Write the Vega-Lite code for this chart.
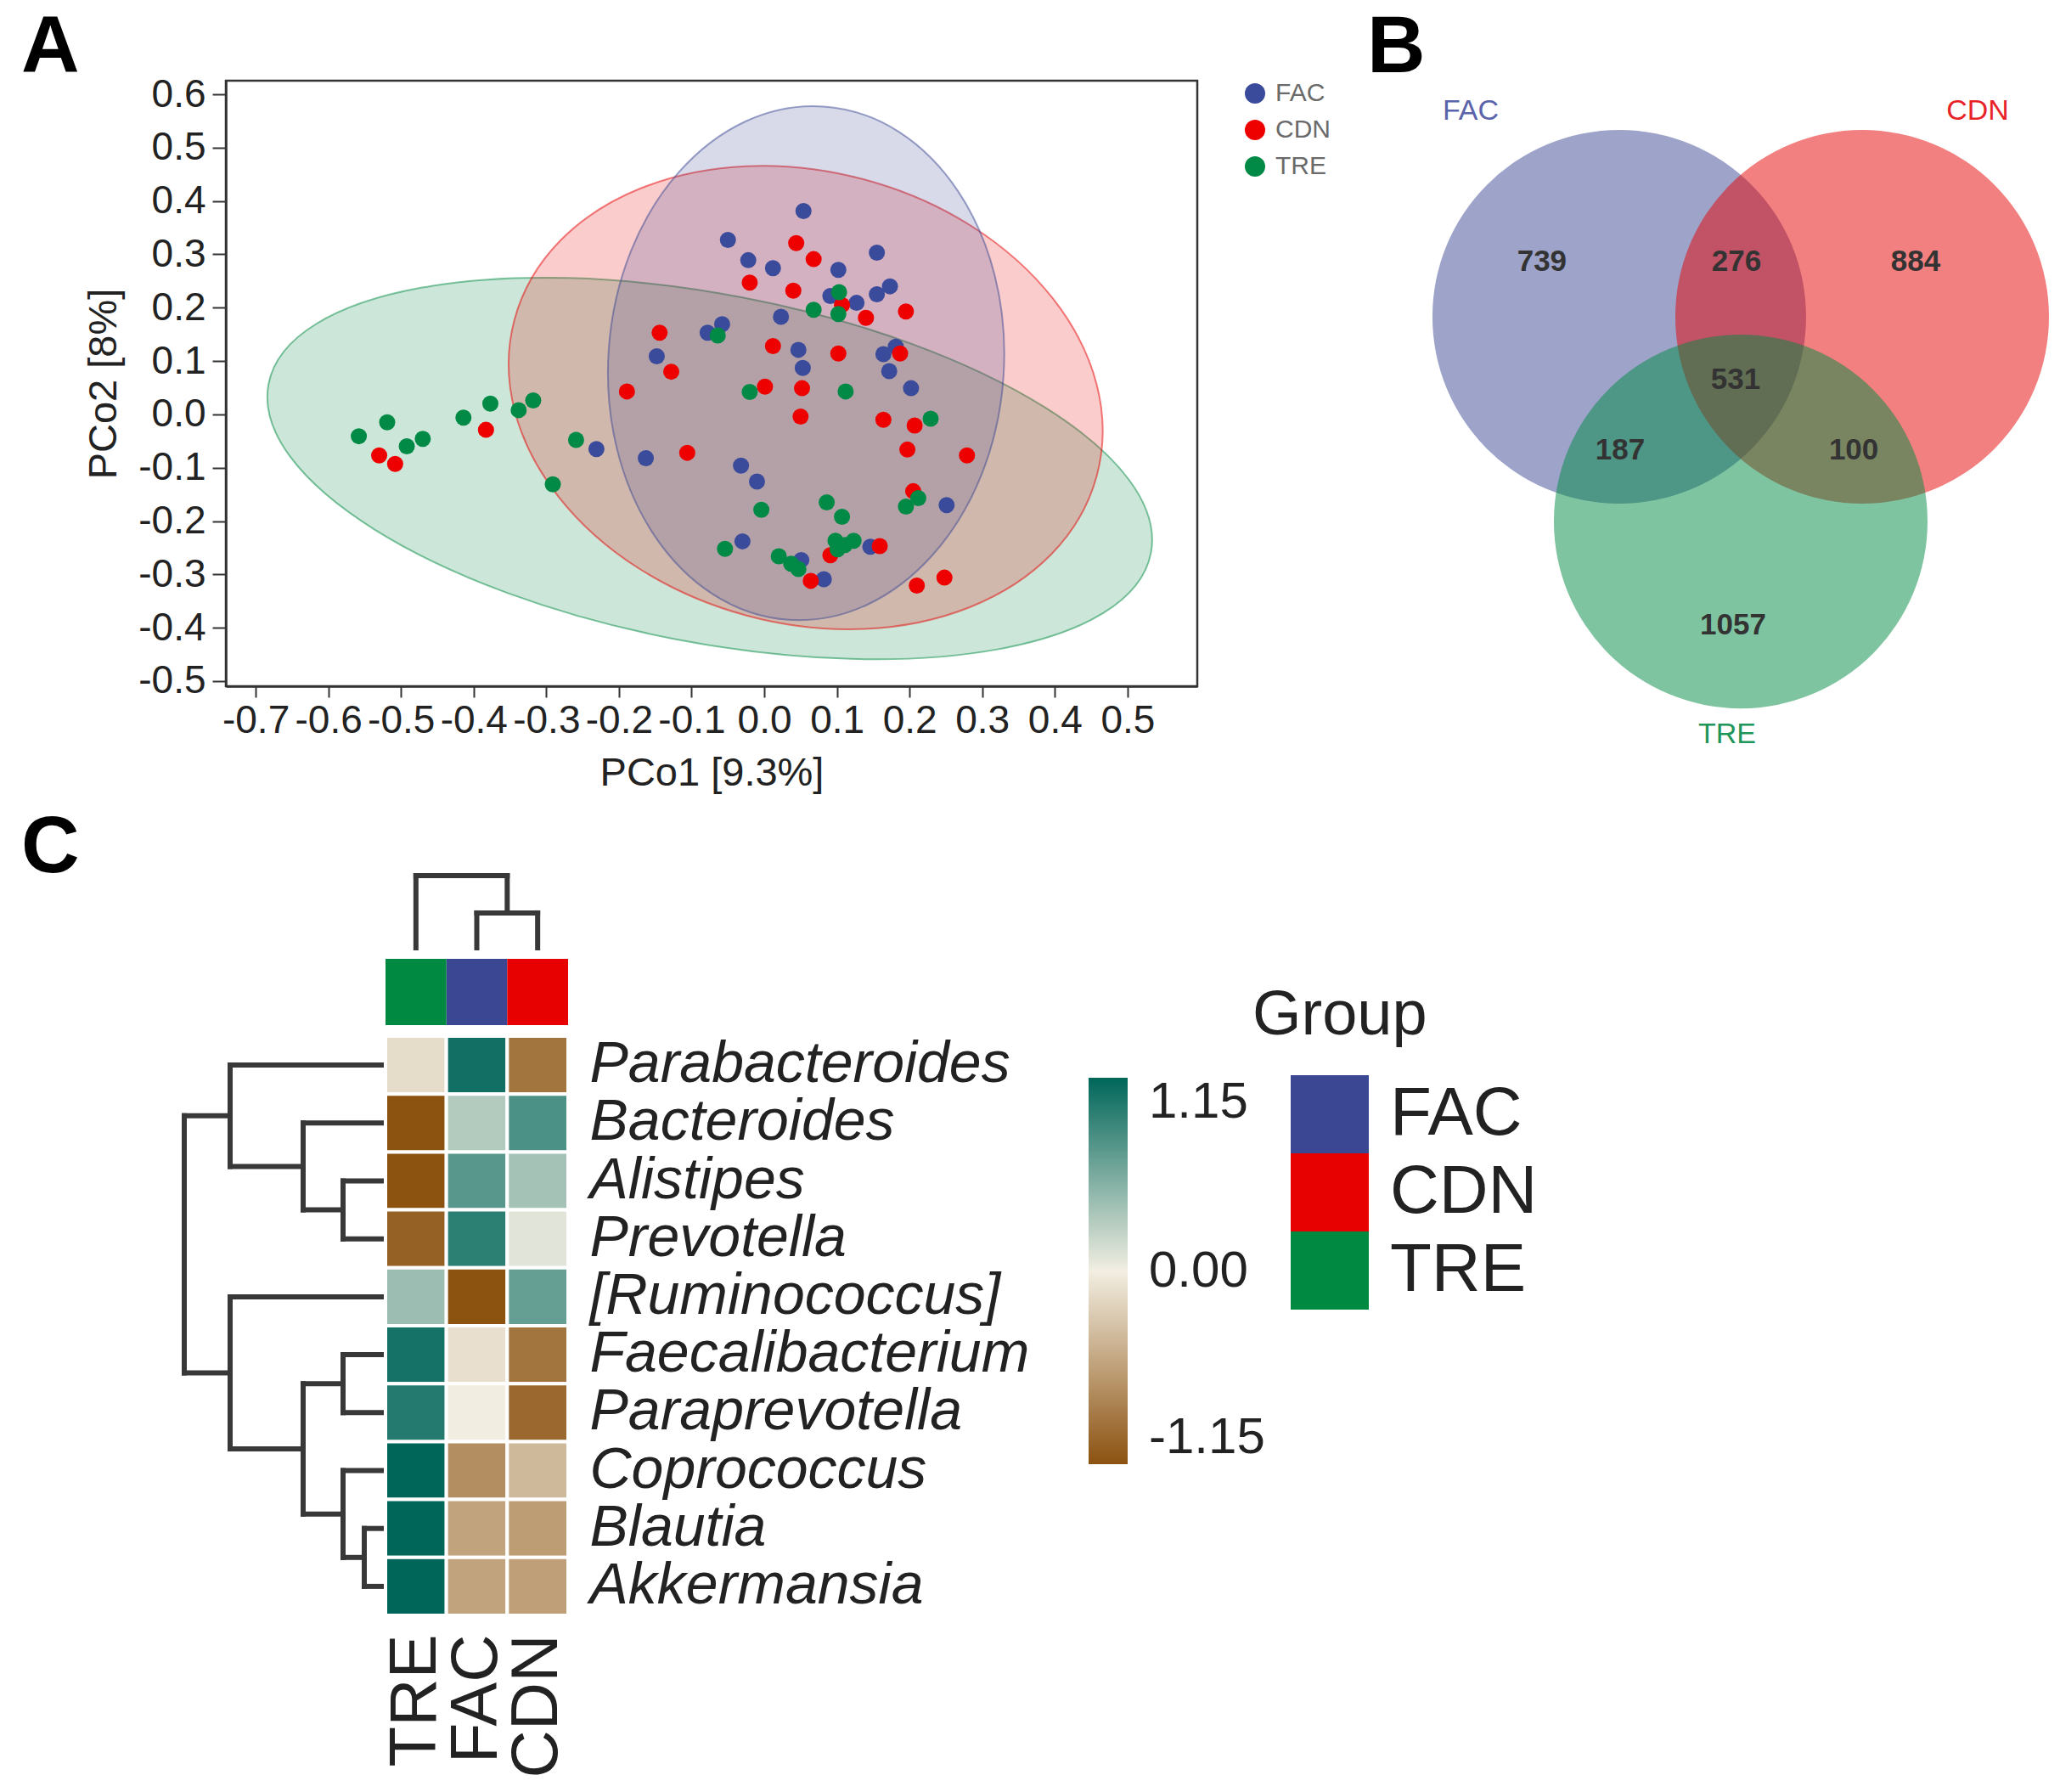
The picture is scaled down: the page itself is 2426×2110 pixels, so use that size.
{
  "$schema": "https://vega.github.io/schema/vega-lite/v6.json",
  "background": "white",
  "padding": {"left": 23, "top": 7, "right": 0, "bottom": 0},
  "config": {
    "font": "Liberation Sans",
    "view": {"stroke": null},
    "axis": {"grid": false},
    "title": {"anchor": "start", "frame": "group", "fontSize": 95, "fontWeight": "bold", "color": "#000", "baseline": "alphabetic"}
  },
  "datasets": {
    "points": [
      {"group": "FAC", "x": -0.231, "y": -0.065}, {"group": "FAC", "x": -0.163, "y": -0.082}, {"group": "FAC", "x": 0.054, "y": 0.381},
      {"group": "FAC", "x": -0.050, "y": 0.327}, {"group": "FAC", "x": -0.022, "y": 0.289}, {"group": "FAC", "x": 0.012, "y": 0.274},
      {"group": "FAC", "x": 0.102, "y": 0.271}, {"group": "FAC", "x": 0.155, "y": 0.303}, {"group": "FAC", "x": 0.173, "y": 0.240},
      {"group": "FAC", "x": 0.155, "y": 0.225}, {"group": "FAC", "x": 0.091, "y": 0.222}, {"group": "FAC", "x": 0.127, "y": 0.209},
      {"group": "FAC", "x": 0.023, "y": 0.183}, {"group": "FAC", "x": -0.058, "y": 0.169}, {"group": "FAC", "x": -0.078, "y": 0.153},
      {"group": "FAC", "x": -0.148, "y": 0.109}, {"group": "FAC", "x": 0.047, "y": 0.121}, {"group": "FAC", "x": 0.053, "y": 0.087},
      {"group": "FAC", "x": 0.164, "y": 0.113}, {"group": "FAC", "x": 0.181, "y": 0.127}, {"group": "FAC", "x": 0.172, "y": 0.081},
      {"group": "FAC", "x": 0.202, "y": 0.049}, {"group": "FAC", "x": -0.032, "y": -0.096}, {"group": "FAC", "x": -0.010, "y": -0.126},
      {"group": "FAC", "x": -0.030, "y": -0.238}, {"group": "FAC", "x": 0.051, "y": -0.273}, {"group": "FAC", "x": 0.082, "y": -0.309},
      {"group": "FAC", "x": 0.146, "y": -0.248}, {"group": "FAC", "x": 0.251, "y": -0.170},
      {"group": "CDN", "x": -0.530, "y": -0.077}, {"group": "CDN", "x": -0.508, "y": -0.093}, {"group": "CDN", "x": -0.383, "y": -0.029},
      {"group": "CDN", "x": -0.189, "y": 0.043}, {"group": "CDN", "x": 0.044, "y": 0.321}, {"group": "CDN", "x": 0.068, "y": 0.291},
      {"group": "CDN", "x": -0.020, "y": 0.247}, {"group": "CDN", "x": 0.040, "y": 0.232}, {"group": "CDN", "x": 0.107, "y": 0.205},
      {"group": "CDN", "x": 0.140, "y": 0.181}, {"group": "CDN", "x": 0.195, "y": 0.193}, {"group": "CDN", "x": -0.144, "y": 0.153},
      {"group": "CDN", "x": 0.012, "y": 0.128}, {"group": "CDN", "x": 0.102, "y": 0.114}, {"group": "CDN", "x": 0.187, "y": 0.114},
      {"group": "CDN", "x": -0.128, "y": 0.080}, {"group": "CDN", "x": 0.001, "y": 0.052}, {"group": "CDN", "x": 0.052, "y": 0.049},
      {"group": "CDN", "x": 0.050, "y": -0.004}, {"group": "CDN", "x": 0.164, "y": -0.010}, {"group": "CDN", "x": 0.207, "y": -0.021},
      {"group": "CDN", "x": -0.106, "y": -0.072}, {"group": "CDN", "x": 0.197, "y": -0.066}, {"group": "CDN", "x": 0.279, "y": -0.077},
      {"group": "CDN", "x": 0.205, "y": -0.144}, {"group": "CDN", "x": 0.091, "y": -0.264}, {"group": "CDN", "x": 0.159, "y": -0.247},
      {"group": "CDN", "x": 0.064, "y": -0.312}, {"group": "CDN", "x": 0.210, "y": -0.321}, {"group": "CDN", "x": 0.248, "y": -0.306},
      {"group": "TRE", "x": -0.558, "y": -0.041}, {"group": "TRE", "x": -0.519, "y": -0.015}, {"group": "TRE", "x": -0.492, "y": -0.060},
      {"group": "TRE", "x": -0.470, "y": -0.046}, {"group": "TRE", "x": -0.414, "y": -0.006}, {"group": "TRE", "x": -0.377, "y": 0.020},
      {"group": "TRE", "x": -0.338, "y": 0.008}, {"group": "TRE", "x": -0.318, "y": 0.026}, {"group": "TRE", "x": -0.259, "y": -0.048},
      {"group": "TRE", "x": -0.291, "y": -0.131}, {"group": "TRE", "x": 0.103, "y": 0.229}, {"group": "TRE", "x": 0.068, "y": 0.196},
      {"group": "TRE", "x": 0.102, "y": 0.188}, {"group": "TRE", "x": -0.064, "y": 0.148}, {"group": "TRE", "x": -0.020, "y": 0.042},
      {"group": "TRE", "x": 0.112, "y": 0.043}, {"group": "TRE", "x": 0.229, "y": -0.008}, {"group": "TRE", "x": -0.004, "y": -0.179},
      {"group": "TRE", "x": 0.086, "y": -0.165}, {"group": "TRE", "x": 0.107, "y": -0.192}, {"group": "TRE", "x": -0.054, "y": -0.252},
      {"group": "TRE", "x": 0.020, "y": -0.266}, {"group": "TRE", "x": 0.037, "y": -0.280}, {"group": "TRE", "x": 0.047, "y": -0.290},
      {"group": "TRE", "x": 0.098, "y": -0.237}, {"group": "TRE", "x": 0.111, "y": -0.245}, {"group": "TRE", "x": 0.123, "y": -0.237},
      {"group": "TRE", "x": 0.101, "y": -0.253}, {"group": "TRE", "x": 0.195, "y": -0.173}, {"group": "TRE", "x": 0.212, "y": -0.157}
    ],
    "ellipses": [
      {"group": "FAC", "x": 0.0576, "y": 0.096},
      {"group": "CDN", "x": 0.057, "y": 0.0315},
      {"group": "TRE", "x": -0.075, "y": -0.1014}
    ],
    "venn": [
      {"set": "FAC", "x": 0, "y": 0},
      {"set": "CDN", "x": 1.3, "y": 0},
      {"set": "TRE", "x": 0.65, "y": -1.0955}
    ],
    "venn_counts": [
      {"count": "739", "x": -0.414, "y": 0.295},
      {"count": "276", "x": 0.627, "y": 0.295},
      {"count": "884", "x": 1.586, "y": 0.295},
      {"count": "531", "x": 0.623, "y": -0.336},
      {"count": "187", "x": 0.005, "y": -0.714},
      {"count": "100", "x": 1.255, "y": -0.714},
      {"count": "1057", "x": 0.609, "y": -1.65}
    ],
    "venn_labels": [
      {"label": "FAC", "x": -0.795, "y": 1.1},
      {"label": "CDN", "x": 1.918, "y": 1.1},
      {"label": "TRE", "x": 0.577, "y": -2.236}
    ],
    "coltree": [
      {"x": 0.5, "x2": 0.5, "y": 0, "y2": 2.07},
      {"x": 1.5, "x2": 1.5, "y": 0, "y2": 1.0},
      {"x": 2.5, "x2": 2.5, "y": 0, "y2": 1.0},
      {"x": 1.5, "x2": 2.5, "y": 1.0, "y2": 1.0},
      {"x": 2.0, "x2": 2.0, "y": 1.0, "y2": 2.07},
      {"x": 0.5, "x2": 2.0, "y": 2.07, "y2": 2.07}
    ],
    "rowtree": [
      {"x": 0, "x2": 3.66, "y": 0.5, "y2": 0.5},
      {"x": 0, "x2": 1.94, "y": 1.5, "y2": 1.5},
      {"x": 0, "x2": 1.0, "y": 2.5, "y2": 2.5},
      {"x": 0, "x2": 1.0, "y": 3.5, "y2": 3.5},
      {"x": 0, "x2": 3.66, "y": 4.5, "y2": 4.5},
      {"x": 0, "x2": 1.0, "y": 5.5, "y2": 5.5},
      {"x": 0, "x2": 1.0, "y": 6.5, "y2": 6.5},
      {"x": 0, "x2": 1.0, "y": 7.5, "y2": 7.5},
      {"x": 0, "x2": 0.5, "y": 8.5, "y2": 8.5},
      {"x": 0, "x2": 0.5, "y": 9.5, "y2": 9.5},
      {"x": 1.0, "x2": 1.0, "y": 2.5, "y2": 3.5},
      {"x": 1.0, "x2": 1.94, "y": 3.0, "y2": 3.0},
      {"x": 1.94, "x2": 1.94, "y": 1.5, "y2": 3.0},
      {"x": 1.94, "x2": 3.66, "y": 2.25, "y2": 2.25},
      {"x": 3.66, "x2": 3.66, "y": 0.5, "y2": 2.25},
      {"x": 3.66, "x2": 4.74, "y": 1.375, "y2": 1.375},
      {"x": 1.0, "x2": 1.0, "y": 5.5, "y2": 6.5},
      {"x": 1.0, "x2": 1.94, "y": 6.0, "y2": 6.0},
      {"x": 0.5, "x2": 0.5, "y": 8.5, "y2": 9.5},
      {"x": 0.5, "x2": 1.0, "y": 9.0, "y2": 9.0},
      {"x": 1.0, "x2": 1.0, "y": 7.5, "y2": 9.0},
      {"x": 1.0, "x2": 1.94, "y": 8.25, "y2": 8.25},
      {"x": 1.94, "x2": 1.94, "y": 6.0, "y2": 8.25},
      {"x": 1.94, "x2": 3.66, "y": 7.125, "y2": 7.125},
      {"x": 3.66, "x2": 3.66, "y": 4.5, "y2": 7.125},
      {"x": 3.66, "x2": 4.74, "y": 5.8125, "y2": 5.8125},
      {"x": 4.74, "x2": 4.74, "y": 1.375, "y2": 5.8125}
    ],
    "groups": [{"group": "FAC"}, {"group": "CDN"}, {"group": "TRE"}],
    "heat": [
      {"genus": "Parabacteroides", "group": "TRE", "z": -0.13}, {"genus": "Parabacteroides", "group": "FAC", "z": 1.07}, {"genus": "Parabacteroides", "group": "CDN", "z": -0.9},
      {"genus": "Bacteroides", "group": "TRE", "z": -1.15}, {"genus": "Bacteroides", "group": "FAC", "z": 0.30}, {"genus": "Bacteroides", "group": "CDN", "z": 0.79},
      {"genus": "Alistipes", "group": "TRE", "z": -1.15}, {"genus": "Alistipes", "group": "FAC", "z": 0.73}, {"genus": "Alistipes", "group": "CDN", "z": 0.37},
      {"genus": "Prevotella", "group": "TRE", "z": -1.04}, {"genus": "Prevotella", "group": "FAC", "z": 0.94}, {"genus": "Prevotella", "group": "CDN", "z": 0.08},
      {"genus": "[Ruminococcus]", "group": "TRE", "z": 0.41}, {"genus": "[Ruminococcus]", "group": "FAC", "z": -1.15}, {"genus": "[Ruminococcus]", "group": "CDN", "z": 0.67},
      {"genus": "Faecalibacterium", "group": "TRE", "z": 1.05}, {"genus": "Faecalibacterium", "group": "FAC", "z": -0.11}, {"genus": "Faecalibacterium", "group": "CDN", "z": -0.9},
      {"genus": "Paraprevotella", "group": "TRE", "z": 0.98}, {"genus": "Paraprevotella", "group": "FAC", "z": -0.01}, {"genus": "Paraprevotella", "group": "CDN", "z": -0.98},
      {"genus": "Coprococcus", "group": "TRE", "z": 1.15}, {"genus": "Coprococcus", "group": "FAC", "z": -0.71}, {"genus": "Coprococcus", "group": "CDN", "z": -0.39},
      {"genus": "Blautia", "group": "TRE", "z": 1.15}, {"genus": "Blautia", "group": "FAC", "z": -0.55}, {"genus": "Blautia", "group": "CDN", "z": -0.6},
      {"genus": "Akkermansia", "group": "TRE", "z": 1.15}, {"genus": "Akkermansia", "group": "FAC", "z": -0.55}, {"genus": "Akkermansia", "group": "CDN", "z": -0.58}
    ]
  },
  "vconcat": [
    {
      "hconcat": [
        {
          "width": 1144,
          "height": 713,
          "title": {"text": "A", "dx": -241, "offset": -17},
          "view": {"stroke": "#333", "strokeWidth": 2.5},
          "encoding": {
            "x": {
              "field": "x", "type": "quantitative",
              "scale": {"domain": [-0.741, 0.596], "nice": false, "zero": false},
              "axis": {
                "title": "PCo1 [9.3%]", "values": [-0.7, -0.6, -0.5, -0.4, -0.3, -0.2, -0.1, 0, 0.1, 0.2, 0.3, 0.4, 0.5],
                "format": ".1f", "labelExpr": "replace(datum.label, '\u2212', '-')",
                "labelFontSize": 46, "titleFontSize": 47, "titleFontWeight": "normal",
                "tickSize": 13, "tickWidth": 2, "tickColor": "#333", "domainColor": "#333", "domainWidth": 2.5,
                "labelColor": "#222", "titleColor": "#222", "labelPadding": 5, "titlePadding": 16,
                "labelFlush": false, "labelOverlap": false
              }
            },
            "y": {
              "field": "y", "type": "quantitative",
              "scale": {"domain": [-0.5096, 0.6255], "nice": false, "zero": false},
              "axis": {
                "title": "PCo2 [8%]", "values": [-0.5, -0.4, -0.3, -0.2, -0.1, 0, 0.1, 0.2, 0.3, 0.4, 0.5, 0.6],
                "format": ".1f", "labelExpr": "replace(datum.label, '\u2212', '-')",
                "labelFontSize": 46, "titleFontSize": 47, "titleFontWeight": "normal",
                "tickSize": 16, "tickWidth": 2, "tickColor": "#333", "domainColor": "#333", "domainWidth": 2.5,
                "labelColor": "#222", "titleColor": "#222", "labelPadding": 8, "titlePadding": 16,
                "labelFlush": false, "labelOverlap": false
              }
            }
          },
          "layer": [
            {
              "data": {"name": "ellipses"},
              "transform": [{"filter": "datum.group === 'TRE'"}],
              "mark": {"type": "point", "shape": "M 1 0 C 1 0.214 0.5523 0.3875 0 0.3875 C -0.5523 0.3875 -1 0.214 -1 0 C -1 -0.214 -0.5523 -0.3875 0 -0.3875 C 0.5523 -0.3875 1 -0.214 1 0 Z", "size": 1119364, "angle": 10.85, "filled": true, "opacity": 1, "fill": "#008941", "fillOpacity": 0.2, "stroke": "#008941", "strokeOpacity": 0.5, "strokeWidth": 2}
            },
            {
              "data": {"name": "ellipses"},
              "transform": [{"filter": "datum.group === 'CDN'"}],
              "mark": {"type": "point", "shape": "M 1 0 C 1 0.4137 0.5523 0.749 0 0.749 C -0.5523 0.749 -1 0.4137 -1 0 C -1 -0.4137 -0.5523 -0.749 0 -0.749 C 0.5523 -0.749 1 -0.4137 1 0 Z", "size": 504100, "angle": 15, "filled": true, "opacity": 1, "fill": "#E70101", "fillOpacity": 0.2, "stroke": "#E70101", "strokeOpacity": 0.5, "strokeWidth": 2}
            },
            {
              "data": {"name": "ellipses"},
              "transform": [{"filter": "datum.group === 'FAC'"}],
              "mark": {"type": "point", "shape": "M 1 0 C 1 0.718 0.5523 1.3 0 1.3 C -0.5523 1.3 -1 0.718 -1 0 C -1 -0.718 -0.5523 -1.3 0 -1.3 C 0.5523 -1.3 1 -0.718 1 0 Z", "size": 217156, "angle": 3.9, "filled": true, "opacity": 1, "fill": "#3B4793", "fillOpacity": 0.2, "stroke": "#3B4793", "strokeOpacity": 0.5, "strokeWidth": 2}
            },
            {
              "data": {"name": "points"},
              "mark": {"type": "point", "shape": "circle", "filled": true, "size": 361, "opacity": 1},
              "encoding": {
                "color": {
                  "field": "group", "type": "nominal",
                  "scale": {"domain": ["FAC", "CDN", "TRE"], "range": ["#3B4B9C", "#EE0000", "#008A45"]},
                  "legend": {
                    "orient": "none", "legendX": 1197, "legendY": 0, "title": null, "padding": 0,
                    "labelFontSize": 30, "labelColor": "#6a6a6a", "symbolType": "circle", "symbolSize": 576,
                    "symbolStrokeWidth": 0, "rowPadding": 13, "labelOffset": 9
                  }
                }
              }
            }
          ]
        },
        {
          "width": 826,
          "height": 713,
          "title": {"text": "B", "dx": 8, "offset": -10},
          "encoding": {
            "x": {"field": "x", "type": "quantitative", "scale": {"domain": [-1.386, 2.368], "nice": false, "zero": false}, "axis": null},
            "y": {"field": "y", "type": "quantitative", "scale": {"domain": [-1.977, 1.2636], "nice": false, "zero": false}, "axis": null}
          },
          "layer": [
            {
              "data": {"name": "venn"},
              "mark": {"type": "point", "shape": "circle", "size": 193600, "filled": true, "opacity": 1, "fillOpacity": 0.5, "strokeWidth": 0},
              "encoding": {
                "fill": {"field": "set", "type": "nominal", "scale": {"domain": ["FAC", "CDN", "TRE"], "range": ["#3B4793", "#E70101", "#008941"]}, "legend": null}
              }
            },
            {
              "data": {"name": "venn_counts"},
              "mark": {"type": "text", "fontSize": 35, "fontWeight": "bold", "fill": "#333"},
              "encoding": {"text": {"field": "count", "type": "nominal"}}
            },
            {
              "data": {"name": "venn_labels"},
              "mark": {"type": "text", "fontSize": 34},
              "encoding": {
                "text": {"field": "label", "type": "nominal"},
                "color": {"field": "label", "type": "nominal", "scale": {"domain": ["FAC", "CDN", "TRE"], "range": ["#5A64AA", "#E82328", "#1E965A"]}, "legend": null}
              }
            }
          ]
        }
      ],
      "spacing": 192,
      "bounds": "flush",
      "resolve": {"scale": {"color": "independent", "fill": "independent"}, "legend": {"color": "independent", "fill": "independent"}}
    },
    {
      "title": {"text": "C", "dx": -241, "offset": -20},
      "hconcat": [
        {
          "width": 188,
          "height": 871,
          "data": {"name": "rowtree"},
          "mark": {"type": "rule", "strokeWidth": 6, "color": "#383838", "strokeCap": "square"},
          "encoding": {
            "x": {"field": "x", "type": "quantitative", "scale": {"domain": [0, 3.76], "reverse": true, "nice": false, "zero": false}, "axis": null},
            "x2": {"field": "x2"},
            "y": {"field": "y", "type": "quantitative", "scale": {"domain": [-2.771, 10], "reverse": true, "nice": false, "zero": false}, "axis": null},
            "y2": {"field": "y2"}
          }
        },
        {
          "vconcat": [
            {
              "width": 215,
              "height": 85,
              "data": {"name": "coltree"},
              "mark": {"type": "rule", "strokeWidth": 6, "color": "#383838", "strokeCap": "square"},
              "encoding": {
                "x": {"field": "x", "type": "quantitative", "scale": {"domain": [0, 3], "nice": false, "zero": false}, "axis": null},
                "x2": {"field": "x2"},
                "y": {"field": "y", "type": "quantitative", "scale": {"domain": [0, 2.07], "nice": false, "zero": false}, "axis": null},
                "y2": {"field": "y2"}
              }
            },
            {
              "width": 215,
              "height": 78,
              "data": {"name": "groups"},
              "mark": {"type": "rect"},
              "encoding": {
                "x": {"field": "group", "type": "nominal", "scale": {"domain": ["TRE", "FAC", "CDN"], "paddingInner": 0, "paddingOuter": 0}, "axis": null},
                "fill": {
                  "field": "group", "type": "nominal",
                  "scale": {"domain": ["FAC", "CDN", "TRE"], "range": ["#3B4793", "#E70101", "#008941"]},
                  "legend": {
                    "orient": "none", "legendX": 1021, "legendY": 31, "padding": 0,
                    "title": "Group", "titleFontSize": 74, "titleFontWeight": "normal", "titleColor": "#222", "titlePadding": 32, "titleLimit": 1000,
                    "symbolType": "square", "symbolSize": 8464, "symbolStrokeWidth": 0, "symbolOffset": 45,
                    "labelFontSize": 80, "labelOffset": 25, "labelColor": "#222", "labelLimit": 1000, "rowPadding": 0
                  }
                }
              }
            },
            {
              "width": 215,
              "height": 682,
              "data": {"name": "heat"},
              "mark": {"type": "rect", "stroke": "white", "strokeWidth": 4},
              "encoding": {
                "x": {
                  "field": "group", "type": "nominal",
                  "scale": {"domain": ["TRE", "FAC", "CDN"], "paddingInner": 0, "paddingOuter": 0},
                  "axis": {"orient": "bottom", "title": null, "labelAngle": -90, "labelFontSize": 78, "labelPadding": 22, "ticks": false, "domain": false, "labelColor": "#222", "labelLimit": 1000, "labelOverlap": false}
                },
                "y": {
                  "field": "genus", "type": "nominal",
                  "scale": {"domain": ["Parabacteroides", "Bacteroides", "Alistipes", "Prevotella", "[Ruminococcus]", "Faecalibacterium", "Paraprevotella", "Coprococcus", "Blautia", "Akkermansia"], "paddingInner": 0, "paddingOuter": 0},
                  "axis": {"orient": "right", "title": null, "labelFontSize": 68, "labelFontStyle": "italic", "labelPadding": 25, "ticks": false, "domain": false, "labelColor": "#222", "labelLimit": 1000, "labelOverlap": false}
                },
                "fill": {
                  "field": "z", "type": "quantitative",
                  "scale": {"domain": [-1.15, 0, 1.15], "range": ["#8C5210", "#F2EEE2", "#00665A"], "interpolate": "rgb"},
                  "legend": {
                    "orient": "none", "legendX": 828, "legendY": 49, "title": null, "padding": 0, "direction": "vertical",
                    "gradientLength": 455, "gradientThickness": 46, "gradientStrokeWidth": 0,
                    "values": [-1.15, 0, 1.15], "format": ".2f", "labelExpr": "replace(datum.label, '\u2212', '-')",
                    "labelFontSize": 60, "labelOffset": 25, "labelColor": "#222", "labelLimit": 1000
                  }
                }
              }
            }
          ],
          "spacing": 13,
          "bounds": "flush",
          "resolve": {"scale": {"fill": "independent", "color": "independent"}, "legend": {"fill": "independent", "color": "independent"}}
        }
      ],
      "spacing": 0,
      "bounds": "flush",
      "resolve": {"scale": {"fill": "independent", "color": "independent"}, "legend": {"fill": "independent", "color": "independent"}}
    }
  ],
  "spacing": 936,
  "bounds": "flush",
  "resolve": {"scale": {"fill": "independent", "color": "independent"}, "legend": {"fill": "independent", "color": "independent"}}
}
